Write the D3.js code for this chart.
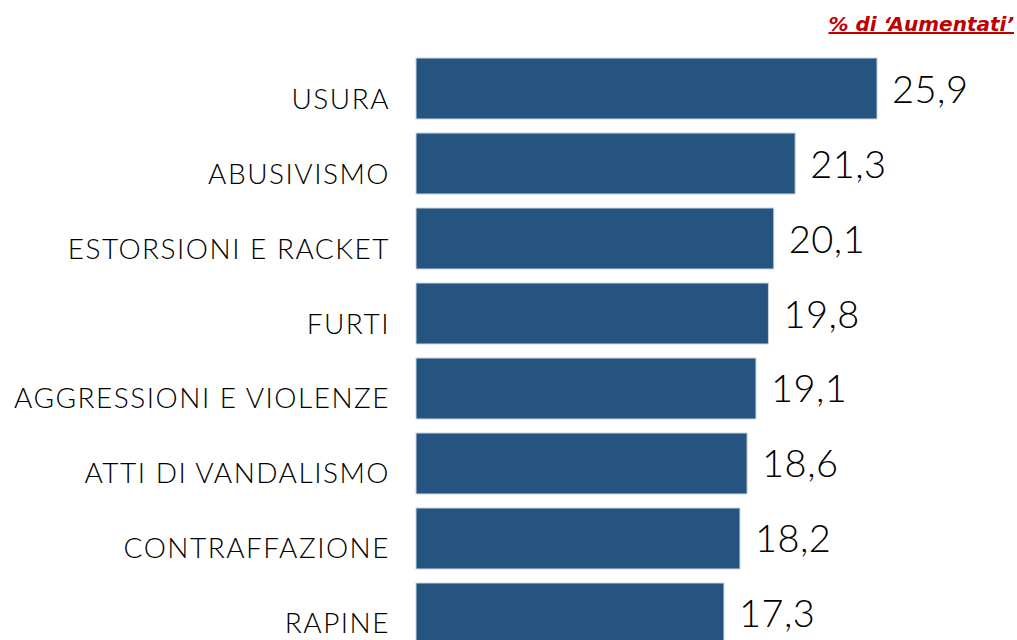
<!DOCTYPE html>
<html><head><meta charset="utf-8">
<script src="https://cdn.jsdelivr.net/npm/d3@7"></script>
<style>body{margin:0;background:#fff;overflow:hidden}</style>
</head><body>
<svg id="c" width="1017" height="640"></svg>
<script>
const categories = ["USURA","ABUSIVISMO","ESTORSIONI E RACKET","FURTI","AGGRESSIONI E VIOLENZE","ATTI DI VANDALISMO","CONTRAFFAZIONE","RAPINE"];
const values = [25.9,21.3,20.1,19.8,19.1,18.6,18.2,17.3];
const valueLabels = ["25,9","21,3","20,1","19,8","19,1","18,6","18,2","17,3"];
const title = "% di \u2018Aumentati\u2019";

const svg = d3.select("#c");
const x = d3.scaleLinear().domain([0, 10]).range([416, 594]);
const y = d3.scaleBand().domain(categories).range([44, 658]).padding(0.187);

svg.selectAll("rect.bar").data(categories).join("rect")
  .attr("class","bar")
  .attr("x", x(0))
  .attr("y", d => y(d))
  .attr("width", (d,i) => x(values[i]) - x(0))
  .attr("height", y.bandwidth())
  .attr("fill", "#24547f")
  .attr("stroke", "#c9d3de").attr("stroke-width", 1);

svg.selectAll("text.cat").data(categories).join("text")
  .attr("class","cat")
  .attr("x", 390)
  .attr("y", d => y(d) + y.bandwidth()/2 + 20)
  .attr("text-anchor","end")
  .attr("font-family","Lato, 'DejaVu Sans', sans-serif")
  .attr("font-weight", 300)
  .attr("font-size", 28)
  .attr("letter-spacing", 1.5)
  .attr("fill","#000")
  .text(d => d);

svg.selectAll("text.val").data(categories).join("text")
  .attr("class","val")
  .attr("x", (d,i) => x(values[i]) + 15)
  .attr("y", d => y(d) + y.bandwidth()/2 + 14)
  .attr("font-family","Lato, 'DejaVu Sans', sans-serif")
  .attr("font-weight", 300)
  .attr("font-size", 38)
  .attr("letter-spacing", 0.5)
  .attr("fill","#000")
  .text((d,i) => valueLabels[i]);

svg.append("text")
  .attr("x", 1014).attr("y", 31)
  .attr("text-anchor","end")
  .attr("font-family","'DejaVu Sans', sans-serif")
  .attr("font-size", 20).attr("font-weight","bold").attr("font-style","italic")
  .attr("fill","#c00000")
  .attr("text-decoration","underline")
  .text(title);
</script>
</body></html>
